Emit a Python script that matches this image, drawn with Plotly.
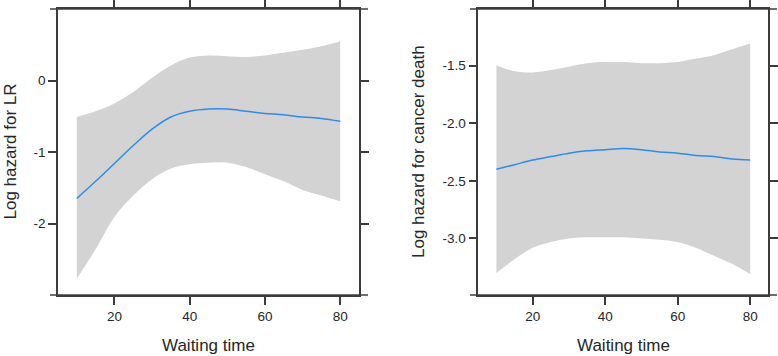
import plotly.graph_objects as go

x_vals = [10, 15, 20, 25, 30, 35, 40, 45, 50, 55, 60, 65, 70, 75, 80]

lr_upper = [-0.51, -0.43, -0.32, -0.16, 0.04, 0.21, 0.32, 0.35, 0.34, 0.33, 0.35, 0.39, 0.43, 0.48, 0.55]
lr_fit = [-1.65, -1.41, -1.16, -0.91, -0.68, -0.51, -0.43, -0.40, -0.40, -0.43, -0.46, -0.48, -0.51, -0.53, -0.57]
lr_lower = [-2.77, -2.36, -1.91, -1.61, -1.38, -1.23, -1.17, -1.15, -1.15, -1.21, -1.31, -1.41, -1.53, -1.61, -1.69]

cd_upper = [-1.50, -1.55, -1.56, -1.54, -1.51, -1.48, -1.47, -1.47, -1.48, -1.48, -1.47, -1.44, -1.41, -1.36, -1.31]
cd_fit = [-2.40, -2.36, -2.32, -2.29, -2.26, -2.24, -2.23, -2.22, -2.23, -2.25, -2.26, -2.28, -2.29, -2.31, -2.32]
cd_lower = [-3.30, -3.18, -3.08, -3.03, -3.00, -2.99, -2.99, -2.99, -3.00, -3.01, -3.03, -3.08, -3.15, -3.22, -3.31]

x_ticks = [20, 40, 60, 80]
lr_ticks = [-2, -1, 0]
lr_ticktext = ["-2", "-1", "0"]
cd_ticks = [-3.0, -2.5, -2.0, -1.5]
cd_ticktext = ["-3.0", "-2.5", "-2.0", "-1.5"]

x_title = "Waiting time"
lr_title = "Log hazard for LR"
cd_title = "Log hazard for cancer death"

W, H = 778, 356
band_color = "#d3d3d3"
line_color = "#2b8cf0"
axis_color = "#3c3c3c"
text_color = "#262626"
FONT = "Liberation Sans, Arial, sans-serif"

fig = go.Figure()

def add_panel(xa, ya, upper, fit, lower):
    fig.add_trace(go.Scatter(
        x=x_vals, y=lower, mode="lines",
        line=dict(width=0, color=band_color, shape="spline", smoothing=1.0),
        xaxis=xa, yaxis=ya, hoverinfo="skip", showlegend=False))
    fig.add_trace(go.Scatter(
        x=x_vals, y=upper, mode="lines", fill="tonexty", fillcolor=band_color,
        line=dict(width=0, color=band_color, shape="spline", smoothing=1.0),
        xaxis=xa, yaxis=ya, hoverinfo="skip", showlegend=False))
    fig.add_trace(go.Scatter(
        x=x_vals, y=fit, mode="lines",
        line=dict(width=1.5, color=line_color, shape="spline", smoothing=1.0),
        xaxis=xa, yaxis=ya, showlegend=False))

add_panel("x", "y", lr_upper, lr_fit, lr_lower)
add_panel("x2", "y2", cd_upper, cd_fit, cd_lower)

ydom = [(H - 295) / H, (H - 9) / H]
xdom1 = [58 / W, 359 / W]
xdom2 = [478.3 / W, 768.3 / W]

common_axis = dict(showline=True, linecolor=axis_color, linewidth=1.5,
                   mirror="ticks", ticks="outside", ticklen=8, tickwidth=1.5,
                   tickcolor=axis_color, showgrid=False, zeroline=False,
                   tickfont=dict(family=FONT, size=13.5, color=text_color))

fig.update_layout(
    width=W, height=H, margin=dict(l=0, r=0, t=0, b=0),
    paper_bgcolor="white", plot_bgcolor="white",
    xaxis=dict(domain=xdom1, range=[5, 85], tickvals=x_ticks, anchor="y", **common_axis),
    yaxis=dict(domain=ydom, range=[-3.0, 1.0], tickvals=lr_ticks, ticktext=lr_ticktext,
               anchor="x", **common_axis),
    xaxis2=dict(domain=xdom2, range=[5, 85], tickvals=x_ticks, anchor="y2", **common_axis),
    yaxis2=dict(domain=ydom, range=[-3.49, -1.01], tickvals=cd_ticks, ticktext=cd_ticktext,
                anchor="x2", **common_axis),
)

annots = [
    dict(text=x_title, x=(xdom1[0] + xdom1[1]) / 2, y=(H - 345) / H),
    dict(text=x_title, x=(xdom2[0] + xdom2[1]) / 2, y=(H - 345) / H),
    dict(text=lr_title, x=9.5 / W, y=(H - 152) / H, textangle=-90),
    dict(text=cd_title, x=418 / W, y=(H - 152) / H, textangle=-90),
]
for a in annots:
    fig.add_annotation(xref="paper", yref="paper", showarrow=False,
                       xanchor="center", yanchor="middle",
                       font=dict(family=FONT, size=17, color=text_color), **a)

# horizontal frame lines extending slightly past the box
for x0, x1 in [(50, 368), (470, 777)]:
    for yy in [9, 295]:
        fig.add_shape(type="line", xref="paper", yref="paper",
                      x0=x0 / W, x1=x1 / W, y0=(H - yy) / H, y1=(H - yy) / H,
                      line=dict(color=axis_color, width=1.5))

fig.write_html("out.html", config={"displayModeBar": False},
               post_script="document.body.style.margin='0px';")
